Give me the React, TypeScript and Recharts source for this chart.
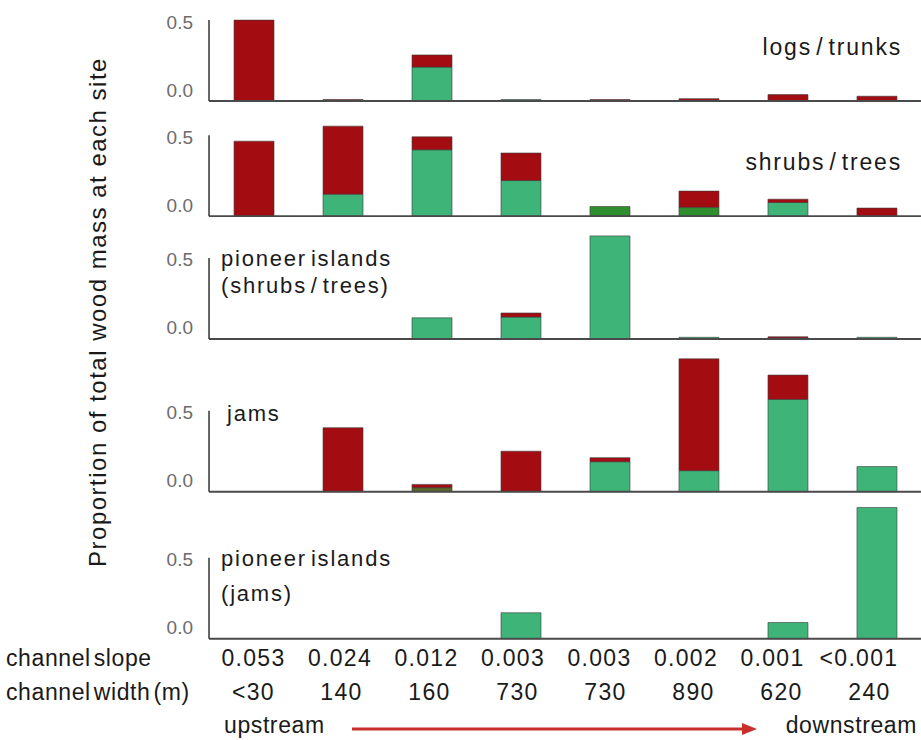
import React from 'react';
import { BarChart, Bar, XAxis, YAxis, Cell } from 'recharts';

// sites, upstream -> downstream
const slopes = ['0.053', '0.024', '0.012', '0.003', '0.003', '0.002', '0.001', '<0.001'];
const channelWidths = ['<30', '140', '160', '730', '730', '890', '620', '240'];

// proportion of total wood mass, green = live part, red = dead part
const logsGreen = [0, 0, 0.21, 0.01, 0, 0, 0, 0];
const logsRed = [0.5, 0.01, 0.075, 0, 0.01, 0.015, 0.04, 0.03];

const shrubsGreen = [0, 0.136, 0.41, 0.22, 0.06, 0.055, 0.085, 0];
const shrubsRed = [0.463, 0.42, 0.08, 0.17, 0, 0.1, 0.02, 0.05];

const pioneerShrubsGreen = [0, 0, 0.13, 0.135, 0.636, 0.01, 0.005, 0.01];
const pioneerShrubsRed = [0, 0, 0, 0.025, 0, 0, 0.008, 0];

const jamsGreen = [0, 0, 0.025, 0, 0.185, 0.13, 0.57, 0.155];
const jamsRed = [0, 0.395, 0.02, 0.25, 0.025, 0.69, 0.15, 0];

const pioneerJamsGreen = [0, 0, 0, 0.16, 0, 0, 0.1, 0.81];
const pioneerJamsRed = [0, 0, 0, 0, 0, 0, 0, 0];

const yTicks = [0, 0.5];

const GREEN = '#3eb478';
const RED = '#a30d12';
const DARK_GREEN = '#2f8f2f';
const OLIVE = '#5b6a2a';
const FONT = '"Liberation Sans", Arial, sans-serif';
const PX_PER_UNIT = 162;
const LEFT = 159;
const Y_AXIS_W = 50;
const PLOT_LEFT = LEFT + Y_AXIS_W;
const BOTTOM_AXIS_H = 80;

type Panel = {
  id: string;
  green: number[];
  red: number[];
  baseline: number;
  maxY: number;
  greenOverride?: Record<number, string>;
  last?: boolean;
};

const panels: Panel[] = [
  { id: 'logs', green: logsGreen, red: logsRed, baseline: 101, maxY: 0.55 },
  {
    id: 'shrubs',
    green: shrubsGreen,
    red: shrubsRed,
    baseline: 216,
    maxY: 0.6,
    greenOverride: { 4: DARK_GREEN, 5: DARK_GREEN },
  },
  { id: 'pioneerShrubs', green: pioneerShrubsGreen, red: pioneerShrubsRed, baseline: 339, maxY: 0.66 },
  { id: 'jams', green: jamsGreen, red: jamsRed, baseline: 492, maxY: 0.85, greenOverride: { 2: OLIVE } },
  { id: 'pioneerJams', green: pioneerJamsGreen, red: pioneerJamsRed, baseline: 639, maxY: 0.85, last: true },
];

// tick label plus the short axis line that only runs from 0.0 up to 0.5
const YTick = (props: any) => {
  const { x, y, payload } = props;
  const v = Number(payload.value);
  return (
    <g>
      {v === 0.5 && (
        <line x1={PLOT_LEFT} y1={y} x2={PLOT_LEFT} y2={y + 0.5 * PX_PER_UNIT} stroke="#333" strokeWidth={1.5} />
      )}
      <text
        x={x - 8}
        y={v === 0 ? y - 11 : y + 2}
        textAnchor="end"
        dominantBaseline="central"
        fontSize={19}
        fill="#6b6b6b"
        fontFamily={FONT}
      >
        {v.toFixed(1)}
      </text>
    </g>
  );
};

const SiteTick = (props: any) => {
  const { x, y, payload, index } = props;
  return (
    <g fontFamily={FONT} fontSize={23} fill="#1a1a1a" textAnchor="middle" letterSpacing={1.3}>
      <text x={x - index * 2.5} y={y + 11} dominantBaseline="central">
        {payload.value}
      </text>
      <text x={x - index} y={y + 45} dominantBaseline="central">
        {channelWidths[index]}
      </text>
    </g>
  );
};

function PanelChart({ p }: { p: Panel }) {
  const data = slopes.map((s, i) => ({ slope: s, green: p.green[i], red: p.red[i] }));
  const plotH = p.maxY * PX_PER_UNIT;
  const axisH = p.last ? BOTTOM_AXIS_H : 1;
  return (
    <div style={{ position: 'absolute', left: 0, top: p.baseline - plotH }}>
      <BarChart
        width={921}
        height={plotH + axisH}
        data={data}
        margin={{ top: 0, right: 0, bottom: 0, left: LEFT }}
        barSize={40}
      >
        <XAxis
          dataKey="slope"
          height={axisH}
          axisLine={{ stroke: '#4a4a4a', strokeWidth: 2 }}
          tickLine={false}
          tick={p.last ? <SiteTick /> : false}
          interval={0}
        />
        <YAxis
          domain={[0, p.maxY]}
          ticks={yTicks}
          width={Y_AXIS_W}
          axisLine={false}
          tickLine={false}
          tick={<YTick />}
          interval={0}
        />
        <Bar dataKey="green" stackId="a" fill={GREEN} stroke="#3a3a3a" strokeWidth={0.6} isAnimationActive={false}>
          {data.map((_, i) => (
            <Cell key={i} fill={p.greenOverride?.[i] ?? GREEN} />
          ))}
        </Bar>
        <Bar dataKey="red" stackId="a" fill={RED} stroke="#3a3a3a" strokeWidth={0.6} isAnimationActive={false} />
      </BarChart>
    </div>
  );
}

export default function App() {
  const txt = { fontFamily: FONT, fill: '#1a1a1a', dominantBaseline: 'central' as const };
  const title = { ...txt, fontSize: 22, letterSpacing: 1.8, wordSpacing: -4 };
  const foot = { ...txt, fontSize: 23, letterSpacing: 0.6 };
  return (
    <div style={{ position: 'absolute', left: 0, top: 0, width: 921, height: 740, background: '#fff', overflow: 'hidden' }}>
      {panels.map((p) => (
        <PanelChart key={p.id} p={p} />
      ))}
      <svg width={921} height={740} style={{ position: 'absolute', left: 0, top: 0, pointerEvents: 'none' }}>
        <text {...txt} fontSize={24} letterSpacing={1.5} textAnchor="middle" transform="translate(97,312) rotate(-90)">
          Proportion of total wood mass at each site
        </text>
        <text {...title} fontSize={23} x={902} y={47} textAnchor="end">
          logs / trunks
        </text>
        <text {...title} fontSize={23} x={902} y={162} textAnchor="end">
          shrubs / trees
        </text>
        <text {...title} x={221} y={258}>
          pioneer islands
        </text>
        <text {...title} x={221} y={285}>
          (shrubs / trees)
        </text>
        <text {...title} x={227} y={413}>
          jams
        </text>
        <text {...title} x={221} y={558}>
          pioneer islands
        </text>
        <text {...title} x={221} y={593}>
          (jams)
        </text>
        <text {...foot} x={6} y={658} wordSpacing={-4}>
          channel slope
        </text>
        <text {...foot} x={6} y={692} wordSpacing={-4}>
          channel width (m)
        </text>
        <text {...foot} x={224} y={725}>
          upstream
        </text>
        <text {...foot} x={917} y={725} textAnchor="end">
          downstream
        </text>
        <line x1={352} y1={729} x2={744} y2={729} stroke="#c8302c" strokeWidth={3} />
        <polygon points="742,723 757,729 742,735" fill="#c8302c" />
      </svg>
    </div>
  );
}
